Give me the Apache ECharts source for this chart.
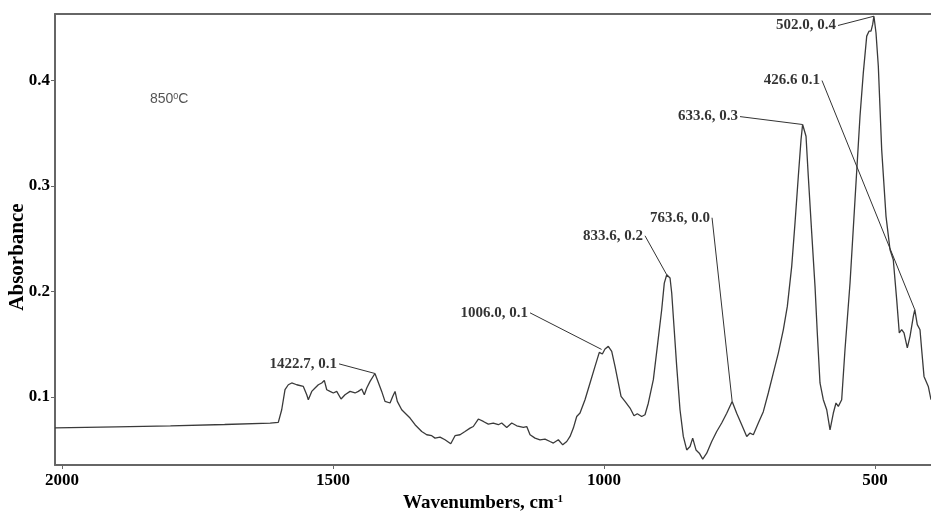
<!DOCTYPE html>
<html>
<head>
<meta charset="utf-8">
<script src="https://cdn.jsdelivr.net/npm/echarts@6/dist/echarts.min.js"></script>
<style>
html,body{margin:0;padding:0;background:#fff;}
#chart{width:931px;height:516px;}
</style>
</head>
<body>
<div id="chart"></div>
<script>
// ---- data ----
var wavenumbers = [2013,1900,1800,1700,1616,1601,1594.7,1588.6,1582.5,1576.2,1567.0,1554.8,1548.5,1545.6,1539.3,1533.2,1527.1,1520.9,1516.1,1511.6,1505.5,1499.5,1493.2,1485.2,1477.9,1468.6,1459.4,1453.3,1447.1,1442.3,1437.8,1431.7,1422.7,1418.3,1410.2,1404.1,1394.8,1389.9,1385.6,1381.4,1373.3,1364.0,1357.9,1348.7,1336.4,1327.1,1317.9,1311.8,1302.6,1293.4,1282.8,1274.9,1265.7,1256.5,1247.2,1241.2,1231.9,1222.7,1213.5,1204.3,1195.0,1188.8,1179.5,1170.3,1161.1,1148.9,1142.6,1136.5,1127.3,1118.1,1108.9,1099.6,1093.5,1084.3,1076.2,1068.8,1062.7,1056.6,1050.4,1044.3,1035.1,1025.8,1016.6,1008.7,1003.1,998.2,992.1,985.8,979.7,973.6,968.6,961.3,952.0,944.7,938.6,930.5,924.4,918.3,909.0,900.9,893.6,888.8,884.3,878.2,875.1,870.9,865.9,859.8,853.7,847.4,841.3,836.4,830.3,824.2,817.9,810.5,801.3,792.1,782.9,773.6,763.6,755.2,746.0,736.7,730.6,724.5,715.3,706.1,696.9,687.7,678.4,669.2,661.8,653.7,647.6,641.5,636.5,633.6,627.3,623.1,616.8,610.7,606.5,601.5,595.4,589.1,583.0,576.9,572.0,567.7,561.5,555.4,546.1,536.9,527.7,521.6,515.3,511.1,507.4,504.3,502.0,498.2,493.9,487.7,479.7,472.3,466.3,460.0,455.2,450.8,446.5,440.4,435.4,429.3,426.6,422.0,417.0,413.9,409.6,401.7,396.7];
var absorbance = [0.0706,0.0716,0.0725,0.0738,0.0752,0.0758,0.0878,0.1068,0.1115,0.1132,0.1115,0.1099,0.1020,0.0973,0.1052,0.1084,0.1115,0.1132,0.1156,0.1068,0.1052,0.1037,0.1052,0.0980,0.1020,0.1052,0.1037,0.1052,0.1075,0.1020,0.1084,0.1147,0.1222,0.1163,0.1052,0.0957,0.0942,0.1004,0.1052,0.0957,0.0878,0.0831,0.0799,0.0736,0.0672,0.0641,0.0632,0.0609,0.0619,0.0593,0.0555,0.0632,0.0641,0.0672,0.0704,0.0719,0.0790,0.0767,0.0742,0.0752,0.0736,0.0752,0.0710,0.0752,0.0726,0.0710,0.0719,0.0641,0.0609,0.0593,0.0600,0.0577,0.0562,0.0593,0.0545,0.0577,0.0625,0.0704,0.0814,0.0847,0.0973,0.1132,0.1289,0.1422,0.1407,0.1454,0.1479,0.1431,0.1289,0.1132,0.1004,0.0957,0.0894,0.0821,0.0840,0.0814,0.0831,0.0940,0.1163,0.1510,0.1826,0.2079,0.2158,0.2127,0.1985,0.1668,0.1289,0.0878,0.0625,0.0497,0.0529,0.0609,0.0497,0.0466,0.0410,0.0466,0.0577,0.0672,0.0752,0.0845,0.0957,0.0845,0.0736,0.0625,0.0657,0.0641,0.0752,0.0860,0.1037,0.1225,0.1415,0.1636,0.1858,0.2238,0.2650,0.3092,0.3440,0.3583,0.3472,0.3092,0.2555,0.2048,0.1606,0.1132,0.0973,0.0878,0.0688,0.0847,0.0942,0.0910,0.0973,0.1447,0.2080,0.2871,0.3661,0.4073,0.4421,0.4468,0.4468,0.4532,0.4610,0.4453,0.4136,0.3345,0.2712,0.2396,0.2301,0.1922,0.1606,0.1637,0.1606,0.1464,0.1574,0.1763,0.1827,0.1685,0.1637,0.1447,0.1194,0.1099,0.0973];

var xTicks = [500, 1000, 1500, 2000];
var yTicks = [0.1, 0.2, 0.3, 0.4];

var annotTexts   = ['1422.7, 0.1', '1006.0, 0.1', '833.6, 0.2', '763.6, 0.0', '633.6, 0.3', '426.6 0.1', '502.0, 0.4'];
var annotPeakWn  = [1422.7, 1004.5, 884.3, 763.6, 633.6, 426.6, 502.0];
var annotPeakAbs = [0.1222, 0.1450, 0.2158, 0.0957, 0.3583, 0.1827, 0.4610];

// ---- layout (label anchor points, in axis units) ----
var annotAnchorWn  = [1488.9, 1136.5, 924.4, 800.7, 749.1, 597.8, 568.3];
var annotAnchorAbs = [0.1313, 0.1797, 0.2528, 0.2699, 0.3658, 0.4000, 0.4522];

var serif = '"Liberation Serif", "Times New Roman", serif';
var lineData = wavenumbers.map(function (w, i) { return [w, absorbance[i]]; });
var leaderData = annotTexts.map(function (t, i) {
  return [{ coord: [annotAnchorWn[i], annotAnchorAbs[i]] }, { coord: [annotPeakWn[i], annotPeakAbs[i]] }];
});
var labelData = annotTexts.map(function (t, i) {
  return { name: t, value: [annotAnchorWn[i], annotAnchorAbs[i]] };
});

var chart = echarts.init(document.getElementById('chart'), null, { renderer: 'canvas' });
var axisLineStyle = { color: '#666', width: 2 };
chart.setOption({
  animation: false,
  backgroundColor: '#fff',
  grid: { left: 55, right: 0, top: 14, bottom: 51 },
  xAxis: [{
    type: 'value', min: 396.7, max: 2013, inverse: true, position: 'bottom',
    axisLine: { show: true, onZero: false, lineStyle: axisLineStyle },
    axisTick: { show: true, length: 4, customValues: xTicks, lineStyle: { color: '#666', width: 1 } },
    axisLabel: { customValues: xTicks, margin: 7, color: '#000', fontFamily: serif, fontWeight: 'bold', fontSize: 17,
      formatter: function (v) { return String(Math.round(v)); } },
    splitLine: { show: false }
  }, {
    type: 'value', min: 396.7, max: 2013, inverse: true, position: 'top',
    axisLine: { show: true, onZero: false, lineStyle: axisLineStyle },
    axisTick: { show: false }, axisLabel: { show: false }, splitLine: { show: false }
  }],
  yAxis: {
    type: 'value', min: 0.0354, max: 0.4631,
    axisLine: { show: true, onZero: false, lineStyle: axisLineStyle },
    axisTick: { show: true, length: 4, customValues: yTicks, lineStyle: { color: '#666', width: 1 } },
    axisLabel: { customValues: yTicks, margin: 5, color: '#000', fontFamily: serif, fontWeight: 'bold', fontSize: 17,
      formatter: function (v) { return v.toFixed(1); } },
    splitLine: { show: false }
  },
  series: [{
    type: 'line', data: lineData, showSymbol: false, symbol: 'none', smooth: false,
    lineStyle: { color: '#3a3a3a', width: 1.3 },
    markLine: {
      silent: true, symbol: ['none', 'none'],
      lineStyle: { color: '#333', width: 1, type: 'solid' },
      label: { show: false },
      data: leaderData
    }
  }, {
    type: 'scatter', data: labelData, symbolSize: 0, silent: true,
    label: { show: true, position: 'left', distance: 2, formatter: '{b}',
      color: '#000', fontFamily: serif, fontWeight: 'bold', fontSize: 15 }
  }],
  graphic: [{
    type: 'text', left: 150, top: 92,
    style: { text: '850{s|0}C', fontFamily: '"Liberation Sans", Arial, sans-serif', fontSize: 14, fill: '#555',
      rich: { s: { fontSize: 9, verticalAlign: 'top', fill: '#555', fontFamily: '"Liberation Sans", Arial, sans-serif' } } }
  }, {
    type: 'text', x: 483, y: 503,
    style: { text: '{t|Wavenumbers, cm}{s|-1}', textAlign: 'center', textVerticalAlign: 'middle',
      rich: { t: { fontFamily: serif, fontWeight: 'bold', fontSize: 19, fill: '#000' },
              s: { fontFamily: serif, fontWeight: 'bold', fontSize: 11, fill: '#000', verticalAlign: 'top' } } }
  }, {
    type: 'text', x: 18, y: 257, rotation: Math.PI / 2,
    style: { text: 'Absorbance', textAlign: 'center', textVerticalAlign: 'middle',
      fontFamily: serif, fontWeight: 'bold', fontSize: 21, fill: '#000' }
  }]
});
</script>
</body>
</html>
